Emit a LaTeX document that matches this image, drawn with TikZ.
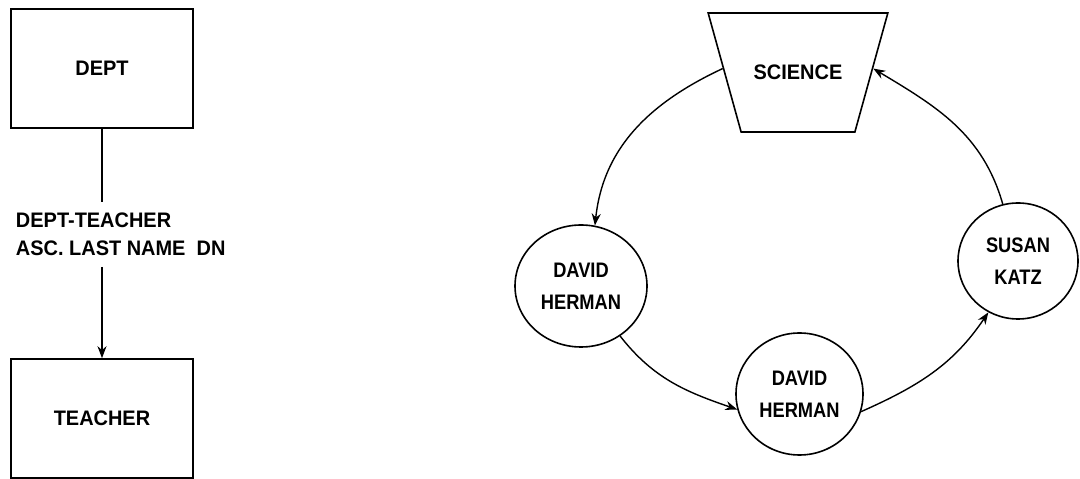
\documentclass[tikz,border=0pt]{standalone}
\usepackage{fontspec}
\setmainfont{Liberation Sans}[FakeStretch=0.95]
\newfontfamily\ringfont{Liberation Sans}[FakeStretch=0.87]
\usetikzlibrary{shapes.geometric,arrows.meta}

\tikzset{
  txt/.style={font=\fontsize{21}{28.5}\selectfont\bfseries},
  record/.style={draw, line width=1.6pt, rectangle, minimum width=182pt,
    minimum height=119pt, inner sep=0pt, txt},
  % natural box 88.7 x 15 stretched to 180 x 119: sides slant in by 33pt
  owner/.style={draw, line width=1.6pt, shape=trapezium,
    trapezium left angle=149.73, trapezium right angle=149.73,
    trapezium stretches=true, minimum width=180pt, minimum height=119pt,
    inner sep=0pt, text height=15pt, text depth=0pt, txt},
  member/.style={draw, line width=1.6pt, shape=ellipse, inner sep=0pt,
    align=center, font=\ringfont\fontsize{21}{32}\selectfont\bfseries},
  conn/.style={line width=1.4pt, -{Stealth[length=12pt,width=9pt]}},
  plain/.style={line width=1.4pt}
}

\begin{document}
\begin{tikzpicture}[x=1pt,y=1pt]
  \useasboundingbox (0,0) rectangle (1080,479);

  % schema: owner record, set and member record
  \node[record] (dept) at (102,410.5) {DEPT};
  \node[record] (teacher) at (102,60.5) {TEACHER};
  \node[txt, align=left, anchor=west, inner xsep=0pt, inner ysep=11pt,
        outer sep=0pt] (setname) at (16,244.75)
        {DEPT-TEACHER\\ASC. LAST NAME\ \ DN};
  \draw[plain] (dept.south) -- (dept.south |- setname.north);
  \draw[conn] (dept.south |- setname.south) -- (teacher.north);

  % one occurrence of the set, linked in a ring
  \node[owner] (sci) at (798,406.5) {SCIENCE};
  \node[member, minimum width=132pt, minimum height=122pt] (c1) at (581,193)
        {DAVID\\HERMAN};
  \node[member, minimum width=127pt, minimum height=122pt] (c2) at (799.5,85)
        {DAVID\\HERMAN};
  \node[member, minimum width=120pt, minimum height=116pt] (c3) at (1018,218)
        {SUSAN\\KATZ};

  \draw[conn] (sci.177) to[out=205, in=84] (c1.77);
  \draw[conn] (c1.-52) to[out=-52, in=161] (c2.194);
  \draw[conn] (c2.-16) to[out=24, in=236] (c3.240);
  \draw[conn] (c3.105) to[out=106, in=-31] (sci.3);
\end{tikzpicture}
\end{document}
